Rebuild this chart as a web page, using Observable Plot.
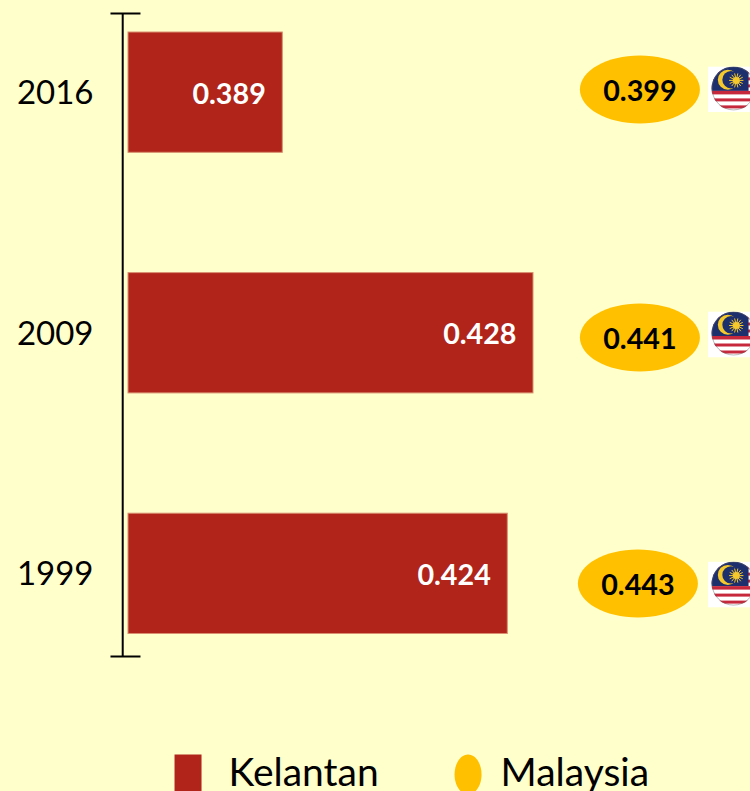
<!DOCTYPE html>
<html>
<head>
<meta charset="utf-8">
<script src="https://cdn.jsdelivr.net/npm/d3@7"></script>
<script src="https://cdn.jsdelivr.net/npm/@observablehq/plot@0.6"></script>
<style>
html,body{margin:0;padding:0;background:#FFFFCC;overflow:hidden;width:750px;height:791px}
svg{display:block}
</style>
</head>
<body>
<div id="chart"></div>
<script>
const years = ["2016", "2009", "1999"];
const kelantan = [0.389, 0.428, 0.424];
const malaysia = [0.399, 0.441, 0.443];
const seriesNames = ["Kelantan", "Malaysia"];
const colors = {page: "#FFFFCC", Kelantan: "#B0241A", Malaysia: "#FFC000", ink: "#000000"};

const rows = years.map((year, i) => ({year, kelantan: kelantan[i], malaysia: malaysia[i]}));
const FONT = "Lato, 'Open Sans', sans-serif";

// Ellipse symbols, since Plot's built-in symbols are all round
const ellipse = (rx, ry) => ({draw(c) {
  const k = 0.5523;
  c.moveTo(-rx, 0);
  c.bezierCurveTo(-rx, -k * ry, -k * rx, -ry, 0, -ry);
  c.bezierCurveTo(k * rx, -ry, rx, -k * ry, rx, 0);
  c.bezierCurveTo(rx, k * ry, k * rx, ry, 0, ry);
  c.bezierCurveTo(-k * rx, ry, -rx, k * ry, -rx, 0);
  c.closePath();
}});
const hCap = {draw(c) { c.moveTo(-15, 0); c.lineTo(15, 0); }};
const square = {draw(c) { c.rect(-13.5, -20, 27, 40); }};

// Malaysia flag badge
const rays = d3.range(14).map(i => {
  const a = i * Math.PI / 7;
  return `M28.7 14L${(28.7 + 7.2 * Math.cos(a)).toFixed(2)} ${(14 + 7.2 * Math.sin(a)).toFixed(2)}`;
}).join("");
const flagSvg = `<svg xmlns="http://www.w3.org/2000/svg" width="46" height="46" viewBox="0 0 46 46">
<rect width="46" height="46" fill="#fff"/>
<defs><clipPath id="c"><circle cx="26" cy="22" r="22"/></clipPath></defs>
<g clip-path="url(#c)">
<rect width="46" height="46" fill="#fff"/>
<rect y="4" width="46" height="3" fill="#C8283C"/>
<rect y="11" width="46" height="3" fill="#C8283C"/>
<rect y="18" width="46" height="3" fill="#C8283C"/>
<rect width="41" height="24.5" fill="#1E2F6E"/>
<rect y="24.5" width="46" height="3.5" fill="#C8283C"/>
<rect y="32" width="46" height="3" fill="#C8283C"/>
<rect y="39" width="46" height="3" fill="#C8283C"/>
<circle cx="20.3" cy="13.3" r="10" fill="#F5C92B"/>
<circle cx="23.5" cy="13.3" r="8.7" fill="#1E2F6E"/>
<path d="${rays}" stroke="#F5C92B" stroke-width="1"/>
<circle cx="28.7" cy="14" r="3.5" fill="#F5C92B"/>
</g>
<circle cx="26" cy="22" r="21.5" fill="none" stroke="#666" stroke-opacity=".45" stroke-width="1"/>
</svg>`;
const flagUrl = "data:image/svg+xml;utf8," + encodeURIComponent(flagSvg);

// Hand placement of each Malaysia badge relative to its row
const nudgeY = {"2016": -3.25, "2009": 4.25, "1999": 9.75};
const nudgeX = {"2016": 0, "2009": 0, "1999": -2};
const flagNudgeY = {"2016": -3.25, "2009": 1.25, "1999": 10.75};
const badgeColumn = 0.44455;   // x-scale position of the oval column
const flagColumn = 0.45865;
const axisAt = 0.3641;
const capAt = 0.36453;

const chart = Plot.plot({
  width: 750,
  height: 791,
  marginTop: 13,
  marginBottom: 135,
  marginLeft: 92,
  marginRight: 0,
  style: {background: colors.page, fontFamily: FONT, overflow: "visible"},
  x: {domain: [0.365, 0.428], range: [128, 533], axis: null},
  y: {type: "band", domain: years, range: [32, 633.5], paddingInner: 0.5, paddingOuter: 0, round: false, label: null},
  marks: [
    Plot.axisY({anchor: "left", tickSize: 0, tickPadding: -1, dy: 1, fontSize: 33, label: null, fill: colors.ink}),
    Plot.ruleX([axisAt], {stroke: colors.ink, strokeWidth: 2}),
    Plot.dot([capAt], {x: d => d, frameAnchor: "top", symbol: hCap, r: 1, stroke: colors.ink, strokeWidth: 2}),
    Plot.dot([capAt], {x: d => d, frameAnchor: "bottom", symbol: hCap, r: 1, stroke: colors.ink, strokeWidth: 2}),
    Plot.barX(rows, {x1: 0.365, x2: "kelantan", y: "year", fill: colors.Kelantan, stroke: "#D98F70", strokeWidth: 1}),
    Plot.text(rows, {x: "kelantan", y: "year", text: d => d.kelantan.toFixed(3), fill: "#fff", fontWeight: 700, fontSize: 28.7, textAnchor: "end", dx: -17, dy: 2}),
    ...rows.flatMap(d => [
      Plot.dot([d], {x: () => badgeColumn, y: "year", symbol: ellipse(60, 34), r: 1, fill: colors.Malaysia, dx: nudgeX[d.year], dy: nudgeY[d.year]}),
      Plot.text([d], {x: () => badgeColumn, y: "year", text: r => r.malaysia.toFixed(3), fill: colors.ink, fontWeight: 700, fontSize: 28.7, dx: nudgeX[d.year], dy: nudgeY[d.year] + 2}),
      Plot.image([d], {x: () => flagColumn, y: "year", src: () => flagUrl, width: 46, height: 46, dy: flagNudgeY[d.year]})
    ]),
    Plot.dot([seriesNames[0]], {x: () => 0.37426, frameAnchor: "bottom", symbol: square, r: 1, fill: colors.Kelantan, dy: 118}),
    Plot.text([seriesNames[0]], {x: () => 0.38056, frameAnchor: "bottom", text: d => d, fontSize: 39, textAnchor: "start", lineAnchor: "middle", fill: colors.ink, dy: 117}),
    Plot.dot([seriesNames[1]], {x: () => 0.41782, frameAnchor: "bottom", symbol: ellipse(13.5, 20), r: 1, fill: colors.Malaysia, dy: 118}),
    Plot.text([seriesNames[1]], {x: () => 0.42287, frameAnchor: "bottom", text: d => d, fontSize: 39, textAnchor: "start", lineAnchor: "middle", fill: colors.ink, dy: 117})
  ]
});
document.getElementById("chart").append(chart);
</script>
</body>
</html>
